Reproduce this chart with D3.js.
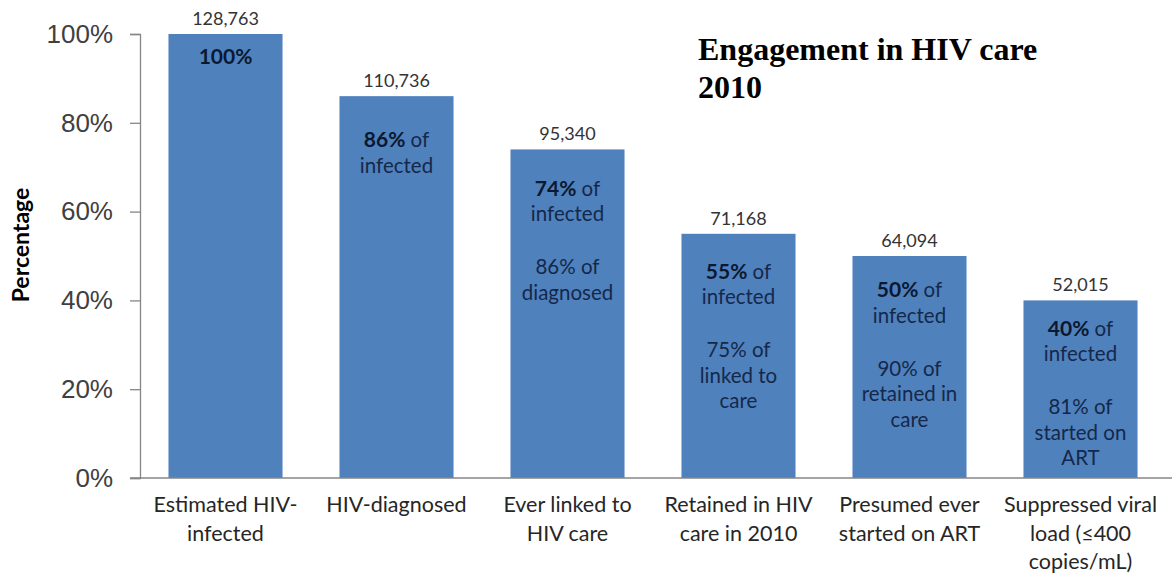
<!DOCTYPE html>
<meta charset="utf-8">
<style>
body { margin: 0; background: #fff; }
svg { display: block; }
.tick text { fill: #404040; }
</style>
<body>
<script src="https://cdn.jsdelivr.net/npm/d3@7/dist/d3.min.js"></script>
<script>

// data
var categories = [
  ["Estimated HIV-", "infected"],
  ["HIV-diagnosed"],
  ["Ever linked to", "HIV care"],
  ["Retained in HIV", "care in 2010"],
  ["Presumed ever", "started on ART"],
  ["Suppressed viral", "load (\u2264400", "copies/mL)"]
];
var percents = [100, 86, 74, 55, 50, 40];
var counts = [128763, 110736, 95340, 71168, 64094, 52015];
// text inside the bars: first the bold share of infected, then the step share
var stepShare = [null, null, "86% of", "75% of", "90% of", "81% of"];
var stepLines = [[], [], ["diagnosed"], ["linked to", "care"], ["retained in", "care"], ["started on", "ART"]];
var yTicks = [0, 20, 40, 60, 80, 100];

// layout
var W = 1172, H = 578;
var labelTop = [23, 44, 39, 38, 34, 28];   // first inner line below bar top
var lineH = 25.5;

var svg = d3.select("body").append("svg")
    .attr("width", W)
    .attr("height", H)
    .style("font-family", "Lato, 'Open Sans', sans-serif");

var x = d3.scaleBand()
    .domain(d3.range(categories.length))
    .range([140, 1166])
    .paddingInner(0.333)
    .paddingOuter(0.1665);

var y = d3.scaleLinear()
    .domain([0, 100])
    .range([478, 34]);

// y axis
var yAxis = d3.axisLeft(y)
    .tickValues(yTicks)
    .tickFormat(function(d) { return d + "%"; })
    .tickSize(10)
    .tickPadding(17);

var gy = svg.append("g")
    .attr("transform", "translate(140,0)")
    .call(yAxis);
gy.select(".domain").attr("stroke", "#868686").attr("stroke-width", 1.3);
gy.selectAll(".tick line").attr("stroke", "#868686").attr("stroke-width", 1.3);
gy.selectAll(".tick text").style("font-size", "26px");

svg.append("text")
    .attr("transform", "translate(29,245) rotate(-90)")
    .attr("text-anchor", "middle")
    .style("font-size", "23px")
    .style("font-weight", "bold")
    .style("fill", "#000")
    .text("Percentage");

// bars
svg.selectAll("rect.bar").data(percents).enter().append("rect")
    .attr("class", "bar")
    .attr("x", function(d, i) { return x(i); })
    .attr("y", function(d) { return y(d); })
    .attr("width", x.bandwidth())
    .attr("height", function(d) { return y(0) - y(d); })
    .attr("fill", "#4f81bd");

// baseline
svg.append("line")
    .attr("x1", 130).attr("x2", W)
    .attr("y1", y(0)).attr("y2", y(0))
    .attr("stroke", "#868686")
    .attr("stroke-width", 1.6);

// counts above bars
svg.selectAll("text.count").data(counts).enter().append("text")
    .attr("class", "count")
    .attr("x", function(d, i) { return x(i) + x.bandwidth() / 2; })
    .attr("y", function(d, i) { return y(percents[i]) - 9; })
    .attr("text-anchor", "middle")
    .style("font-size", "18px")
    .style("fill", "#333")
    .text(d3.format(","));

// labels inside bars
percents.forEach(function(p, i) {
  var cx = x(i) + x.bandwidth() / 2;
  var top = y(p) + labelTop[i];
  var g = svg.append("g").style("fill", "#15284a").style("font-size", "20.5px");

  var t1 = g.append("text")
      .attr("x", cx).attr("y", top)
      .attr("dy", "0.35em")
      .attr("text-anchor", "middle");
  t1.append("tspan").style("font-weight", "bold").style("font-size", "21px")
      .style("fill", "#0c1830").text(p + "%");
  if (i == 0) return;
  t1.append("tspan").text(" of");

  g.append("text")
      .attr("x", cx).attr("y", top + lineH)
      .attr("dy", "0.35em")
      .attr("text-anchor", "middle")
      .text("infected");

  if (stepShare[i]) {
    var lines = [stepShare[i]].concat(stepLines[i]);
    lines.forEach(function(s, k) {
      g.append("text")
          .attr("x", cx).attr("y", top + lineH * (3 + k) + 2)
          .attr("dy", "0.35em")
          .attr("text-anchor", "middle")
          .text(s);
    });
  }
});

// category labels
categories.forEach(function(lines, i) {
  var t = svg.append("text")
      .attr("x", x(i) + x.bandwidth() / 2)
      .attr("y", 512)
      .attr("text-anchor", "middle")
      .style("font-size", "21.5px")
      .style("fill", "#262626");
  lines.forEach(function(s, k) {
    t.append("tspan")
        .attr("x", x(i) + x.bandwidth() / 2)
        .attr("dy", k == 0 ? 0 : 28.5)
        .text(s);
  });
});

// title
var title = svg.append("text")
    .attr("x", 698)
    .attr("y", 60)
    .style("font-family", "'Liberation Serif', 'Times New Roman', serif")
    .style("font-size", "32px")
    .style("font-weight", "bold")
    .style("fill", "#000");
title.append("tspan").attr("x", 698).text("Engagement in HIV care");
title.append("tspan").attr("x", 698).attr("dy", 38).text("2010");

</script>
</body>
